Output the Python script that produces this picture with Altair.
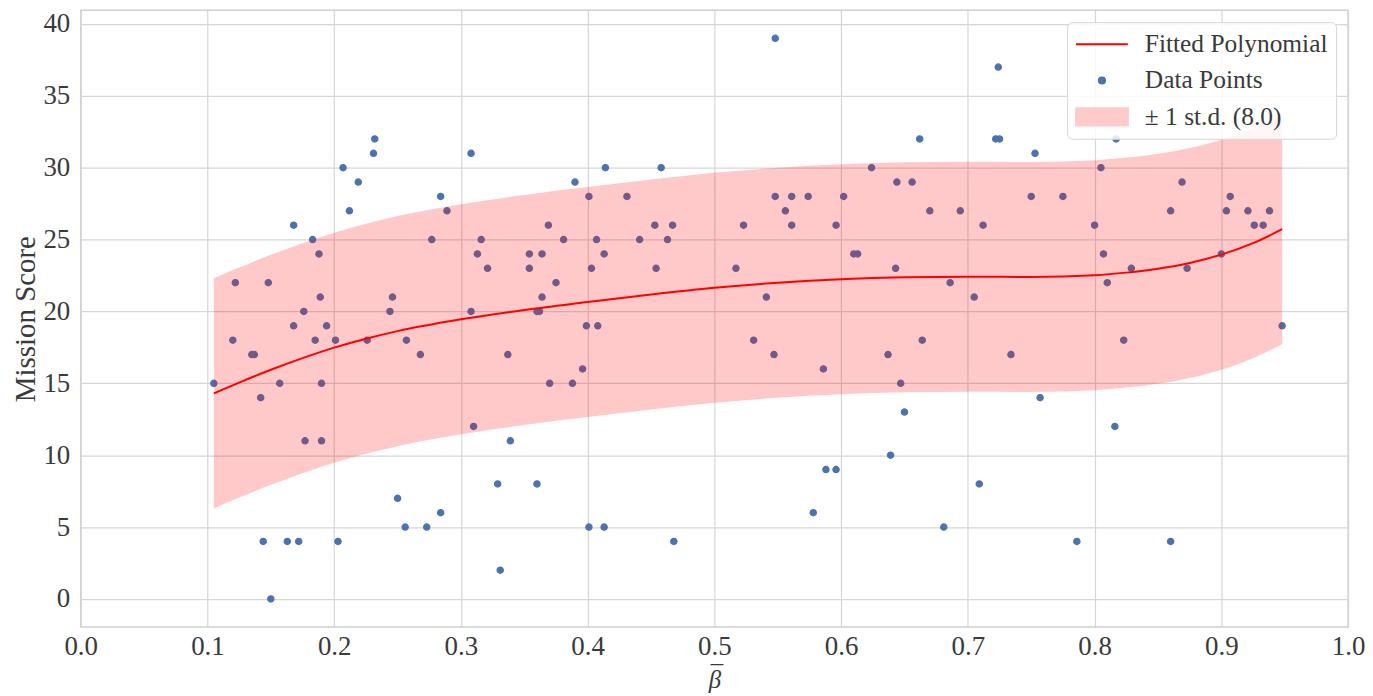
import altair as alt
import pandas as pd

# ---- data ----
beta = [0.105, 0.122, 0.148, 0.120, 0.135, 0.137, 0.142, 0.157, 0.168, 0.168,
        0.176, 0.183, 0.188, 0.189, 0.185, 0.194, 0.190, 0.177, 0.190, 0.201,
        0.226, 0.207, 0.219, 0.212, 0.232, 0.231, 0.144, 0.163, 0.172, 0.203,
        0.150,
        0.284, 0.289, 0.277, 0.246, 0.244, 0.257, 0.268, 0.250, 0.256, 0.273,
        0.284,
        0.308, 0.316, 0.313, 0.321, 0.308, 0.310, 0.339, 0.337, 0.329, 0.360,
        0.331, 0.354, 0.364, 0.354, 0.369, 0.381, 0.375, 0.364, 0.360, 0.362,
        0.370,
        0.390, 0.414, 0.458, 0.401, 0.431, 0.407, 0.413, 0.403, 0.441, 0.453,
        0.467, 0.463, 0.454, 0.399, 0.408, 0.396, 0.388, 0.401, 0.413, 0.468,
        0.523, 0.517,
        0.548, 0.662, 0.624, 0.644, 0.656, 0.548, 0.561, 0.574, 0.602, 0.556,
        0.670, 0.561, 0.596, 0.610, 0.613, 0.643, 0.541, 0.531, 0.664, 0.547,
        0.637, 0.586, 0.647, 0.650, 0.639, 0.588, 0.596, 0.578,
        0.724, 0.722, 0.725, 0.753, 0.817, 0.805, 0.750, 0.775, 0.694, 0.712,
        0.800, 0.807, 0.686, 0.810, 0.705, 0.734, 0.757, 0.816, 0.709, 0.681,
        0.786,
        0.869, 0.860, 0.907, 0.904, 0.921, 0.938, 0.926, 0.933, 0.900, 0.829,
        0.873, 0.823, 0.948, 0.860]
score = [15, 22, 22, 18, 17, 17, 14, 15, 26, 19,
         20, 25, 24, 21, 18, 19, 15, 11, 11, 18,
         18, 30, 29, 27, 32, 31, 4, 4, 4, 4,
         0,
         28, 27, 25, 21, 20, 18, 17, 7, 5, 5,
         6,
         31, 25, 24, 23, 20, 12, 11, 17, 8, 8,
         2, 24, 24, 23, 26, 25, 22, 21, 20, 20,
         15,
         29, 30, 30, 28, 28, 25, 24, 23, 25, 26,
         26, 25, 23, 19, 19, 16, 15, 5, 5, 4,
         26, 23,
         39, 32, 30, 29, 29, 28, 28, 28, 28, 27,
         27, 26, 26, 24, 24, 23, 21, 18, 18, 17,
         17, 16, 15, 13, 10, 9, 9, 6,
         37, 32, 32, 31, 32, 30, 28, 28, 27, 26,
         26, 24, 22, 22, 21, 17, 14, 12, 8, 5,
         4,
         29, 27, 28, 27, 27, 27, 26, 26, 24, 23,
         23, 18, 19, 4]

fit_x = [0.105, 0.125, 0.15, 0.175, 0.2, 0.225, 0.25, 0.3, 0.35, 0.4, 0.45,
         0.5, 0.55, 0.6, 0.65, 0.7, 0.75, 0.8, 0.825, 0.85, 0.875, 0.9,
         0.925, 0.948]
fit_y = [14.3, 15.05, 15.94, 16.75, 17.48, 18.1, 18.63, 19.45, 20.1, 20.65, 21.18,
         21.65, 22.0, 22.24, 22.37, 22.41, 22.4, 22.52, 22.7, 22.97, 23.37, 23.95,
         24.75, 25.72]
STD = 8.0

SERIES = ["Fitted Polynomial", "Data Points", "± 1 st.d. (8.0)"]
X_TITLE = ["¯", "β"]   # overlined beta, drawn as two stacked lines

pts = pd.DataFrame({"beta": beta, "score": score, "series": "Data Points"})
fit = pd.DataFrame({"beta": fit_x, "fit": fit_y})

FONT = "Liberation Serif"
TXT = "#3a3a3a"
GRID = "#d6d6d6"

xs = alt.Scale(domain=[0, 1], nice=False, zero=False)
ys = alt.Scale(domain=[-1.95, 40.95], nice=False, zero=False)

xaxis = alt.Axis(values=[i / 10 for i in range(11)], format=".1f", title=X_TITLE,
                 labelFont=FONT, labelFontSize=27, labelColor=TXT, labelPadding=7,
                 labelFlush=False, labelOverlap=False,
                 titleFont=FONT, titleFontSize=25, titleFontStyle="italic",
                 titleFontWeight="normal", titleColor=TXT,
                 titleBaseline="alphabetic", titleLineHeight=5, titleY=56,
                 tickSize=0, domain=False, grid=True, gridColor=GRID, gridWidth=1.2)
yaxis = alt.Axis(values=list(range(0, 41, 5)), title="Mission Score",
                 labelFont=FONT, labelFontSize=27, labelColor=TXT, labelPadding=11,
                 labelFlush=False, labelOverlap=False,
                 titleFont=FONT, titleFontSize=29, titleFontWeight="normal",
                 titleColor=TXT, titlePadding=2,
                 tickSize=0, domain=False, grid=True, gridColor=GRID, gridWidth=1.2)

LINE = "M-1,0H1"
DOT = "M0,-0.12A0.12,0.12,0,1,1,0,0.12A0.12,0.12,0,1,1,0,-0.12Z"
RECT = "M-1,-0.33H1V0.33H-1Z"

legend = alt.Legend(title=None, orient="top-right", offset=12,
                    fillColor="rgba(255,255,255,0.85)", strokeColor="#d6d6d6",
                    cornerRadius=5, padding=8,
                    labelFont=FONT, labelFontSize=25.5, labelColor=TXT, labelOffset=16,
                    labelLimit=500,
                    symbolSize=2704, symbolStrokeWidth=2, symbolOpacity=1,
                    clipHeight=28, rowPadding=8.5)

points = alt.Chart(pts).mark_point(filled=True, size=2704, strokeWidth=1.3, opacity=1).encode(
    x=alt.X("beta:Q", scale=xs, axis=xaxis),
    y=alt.Y("score:Q", scale=ys, axis=yaxis),
    shape=alt.Shape("series:N", scale=alt.Scale(domain=SERIES, range=[LINE, DOT, RECT]), legend=legend),
    fill=alt.Fill("series:N", scale=alt.Scale(domain=SERIES, range=["transparent", "#4C72B0", "#ffcaca"]), legend=legend),
    stroke=alt.Stroke("series:N", scale=alt.Scale(domain=SERIES, range=["#ff0000", "#4C72B0", "#ffcaca"]), legend=legend),
)

line = alt.Chart(fit).mark_line(color="#ff0000", strokeWidth=2, interpolate="monotone").encode(
    x=alt.X("beta:Q", scale=xs),
    y=alt.Y("fit:Q", scale=ys),
)

band = alt.Chart(fit).transform_calculate(
    lo=f"datum.fit - {STD}", hi=f"datum.fit + {STD}"
).mark_area(color="#ff0000", opacity=0.21, interpolate="monotone").encode(
    x=alt.X("beta:Q", scale=xs),
    y=alt.Y("lo:Q", scale=ys),
    y2="hi:Q",
)

chart = alt.layer(points, line, band).properties(
    width=1272, height=619,
    padding={"left": 4, "top": 0, "right": 0, "bottom": 0},
    background="white",
).configure_view(stroke="#d0d0d0", strokeWidth=1.5)

chart.save("out.html", embed_options={"renderer": "svg", "actions": False})
